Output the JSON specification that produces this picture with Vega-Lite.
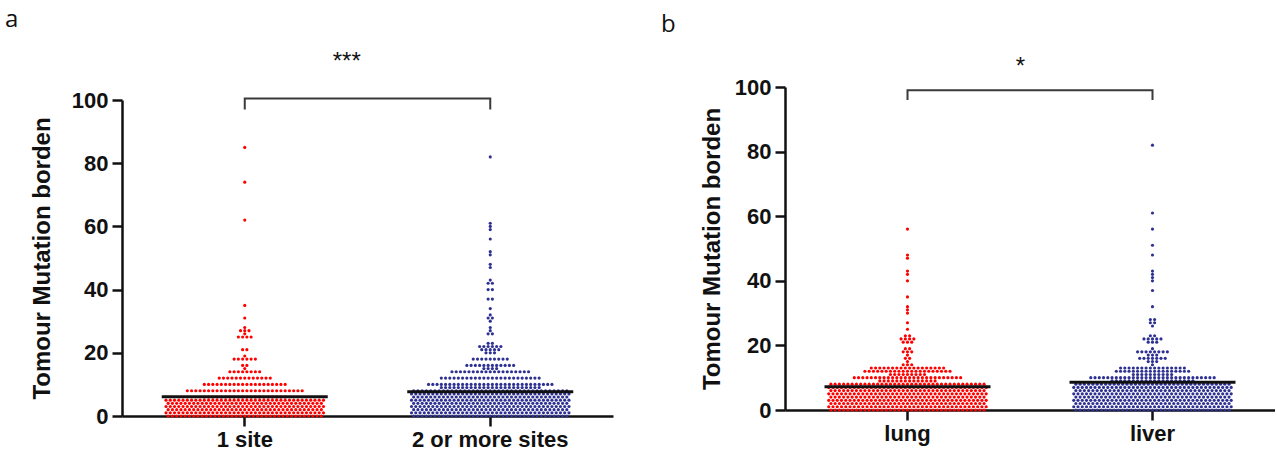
{
"$schema":"https://vega.github.io/schema/vega-lite/v6.json",
"padding":{"left":5,"top":8,"right":0,"bottom":0},
"background":"white",
"bounds":"flush",
"spacing":172,
"config":{
 "view":{"stroke":null},
 "axis":{"grid":false,"domainColor":"#111","domainWidth":2.5,"tickColor":"#111","tickWidth":2.5,"tickSize":10,"labelFont":"Liberation Sans, Arial, sans-serif","labelFontWeight":"bold","labelFontSize":22,"labelColor":"#111","titleFont":"Liberation Sans, Arial, sans-serif","titleFontWeight":"bold","titleFontSize":24,"titleColor":"#111"}
},
"hconcat":[
{
 "width":491,"height":329,
 "title":{"text":"a","anchor":"start","frame":"group","dx":-117,"offset":-1,"fontSize":24,"fontWeight":"normal","font":"Open Sans","color":"#111","baseline":"alphabetic"},
 "layer":[
  {"data":{"values":[0,0,0,0,0,0,0,0,0,0,0,0,0,0,0,0,0,0,0,0,0,0,0,0,0,0,0,0,0,0,0,0,0,0,0,0,0,1,1,1,1,1,1,1,1,1,1,1,1,1,1,1,1,1,1,1,1,1,1,1,1,1,1,1,1,1,1,1,1,1,1,1,1,1,1,2,2,2,2,2,2,2,2,2,2,2,2,2,2,2,2,2,2,2,2,2,2,2,2,2,2,2,2,2,2,2,2,2,2,2,2,2,3,3,3,3,3,3,3,3,3,3,3,3,3,3,3,3,3,3,3,3,3,3,3,3,3,3,3,3,3,3,3,3,3,3,3,3,3,3,4,4,4,4,4,4,4,4,4,4,4,4,4,4,4,4,4,4,4,4,4,4,4,4,4,4,4,4,4,4,4,4,4,4,4,4,4,5,5,5,5,5,5,5,5,5,5,5,5,5,5,5,5,5,5,5,5,5,5,5,5,5,5,5,5,5,5,5,5,5,5,5,5,5,5,6,6,6,6,6,6,6,6,6,6,6,6,6,6,6,6,6,6,6,6,8,8,8,8,8,8,8,8,8,8,8,8,8,8,8,8,8,8,8,8,8,8,8,8,8,8,8,8,10,10,10,10,10,10,10,10,10,10,10,10,10,10,10,10,10,10,10,10,12,12,12,12,12,12,12,12,12,12,12,12,12,14,14,14,14,14,14,14,14,15,16,16,18,18,18,18,18,18,19,21,21,25,25,25,25,26,27,27,27,28,31,35,62,74,85]},
   "transform":[{"window":[{"op":"row_number","as":"i"}],"groupby":["data"]},{"joinaggregate":[{"op":"count","as":"n"}],"groupby":["data"]},{"calculate":"datum.i-(datum.n+1)/2","as":"off"}],
   "mark":{"type":"circle","size":10,"color":"#ff0000","opacity":1},
   "encoding":{
    "x":{"datum":"1 site","type":"nominal","title":null,"scale":{"domain":["1 site","2 or more sites"],"paddingInner":0.324,"paddingOuter":0.162},"axis":{"labelAngle":0,"labelPadding":3}},
    "xOffset":{"field":"off","type":"quantitative","scale":{"domain":[-19.5,19.5]}},
    "y":{"field":"data","type":"quantitative","title":"Tomour Mutation borden","scale":{"domain":[0,100],"range":[329,13]},"axis":{"values":[0,20,40,60,80,100],"labelPadding":4,"titlePadding":17}}
   }},
  {"data":{"values":[0,0,0,0,0,0,0,0,0,0,0,0,0,0,0,0,0,0,0,0,0,0,0,0,0,0,0,0,0,0,0,0,0,0,0,0,0,1,1,1,1,1,1,1,1,1,1,1,1,1,1,1,1,1,1,1,1,1,1,1,1,1,1,1,1,1,1,1,1,1,1,1,1,1,1,2,2,2,2,2,2,2,2,2,2,2,2,2,2,2,2,2,2,2,2,2,2,2,2,2,2,2,2,2,2,2,2,2,2,2,2,2,3,3,3,3,3,3,3,3,3,3,3,3,3,3,3,3,3,3,3,3,3,3,3,3,3,3,3,3,3,3,3,3,3,3,3,3,3,3,4,4,4,4,4,4,4,4,4,4,4,4,4,4,4,4,4,4,4,4,4,4,4,4,4,4,4,4,4,4,4,4,4,4,4,4,4,5,5,5,5,5,5,5,5,5,5,5,5,5,5,5,5,5,5,5,5,5,5,5,5,5,5,5,5,5,5,5,5,5,5,5,5,5,5,6,6,6,6,6,6,6,6,6,6,6,6,6,6,6,6,6,6,6,6,6,6,6,6,6,6,6,6,6,6,6,6,6,6,6,6,6,7,7,7,7,7,7,7,7,7,7,7,7,7,7,7,7,7,7,7,7,7,7,7,7,7,7,7,7,7,7,7,7,7,7,7,7,7,7,8,8,8,8,8,8,8,8,8,8,8,8,8,8,8,8,8,8,8,8,8,8,8,8,8,8,8,8,8,8,8,8,8,8,8,8,8,9,9,9,9,9,9,9,9,9,9,9,9,9,9,9,9,9,9,9,9,9,9,9,9,10,10,10,10,10,10,10,10,10,10,10,10,10,10,10,10,10,10,10,10,10,10,10,10,10,10,10,10,10,10,12,12,12,12,12,12,12,12,12,12,12,12,12,12,12,12,12,12,12,12,12,12,12,12,14,14,14,14,14,14,14,14,14,14,14,14,14,14,14,14,14,14,14,15,15,15,15,16,16,16,16,16,16,16,16,16,16,16,16,18,18,18,18,18,18,18,18,18,20,20,20,21,21,21,21,21,22,22,22,22,22,22,23,23,26,26,27,28,30,31,31,32,34,37,37,40,40,42,42,43,47,48,51,52,56,59,60,61,82]},
   "transform":[{"window":[{"op":"row_number","as":"i"}],"groupby":["data"]},{"joinaggregate":[{"op":"count","as":"n"}],"groupby":["data"]},{"calculate":"datum.i-(datum.n+1)/2","as":"off"}],
   "mark":{"type":"circle","size":10,"color":"#2e3192","opacity":1},
   "encoding":{
    "x":{"datum":"2 or more sites","type":"nominal","title":null},
    "xOffset":{"field":"off","type":"quantitative","scale":{"domain":[-19.5,19.5]}},
    "y":{"field":"data","type":"quantitative","title":"Tomour Mutation borden"}
   }},
  {"data":{"values":[{"g":"1 site","m":6.1},{"g":"2 or more sites","m":7.7}]},
   "mark":{"type":"tick","size":166,"thickness":3,"color":"#111","opacity":1},
   "encoding":{"x":{"field":"g","type":"nominal","title":null},"y":{"field":"m","type":"quantitative","title":"Tomour Mutation borden"}}},
  {"data":{"values":[{"g":"1 site","y":97,"o":1},{"g":"1 site","y":100.5,"o":2},{"g":"2 or more sites","y":100.5,"o":3},{"g":"2 or more sites","y":97,"o":4}]},
   "mark":{"type":"line","color":"#3a3a3a","strokeWidth":2},
   "encoding":{"x":{"field":"g","type":"nominal","title":null},"y":{"field":"y","type":"quantitative","title":"Tomour Mutation borden"},"order":{"field":"o"}}},
  {"data":{"values":[{"g":"1 site","t":"***","y":112}]},
   "mark":{"type":"text","dx":102,"fontSize":24,"font":"Liberation Sans","color":"#111"},
   "encoding":{"x":{"field":"g","type":"nominal","title":null},"y":{"field":"y","type":"quantitative","title":"Tomour Mutation borden"},"text":{"field":"t"}}}
 ]
},
{
 "width":490,"height":323,
 "title":{"text":"b","anchor":"start","frame":"group","dx":-124,"offset":-1,"fontSize":24,"fontWeight":"normal","font":"Open Sans","color":"#111","baseline":"alphabetic"},
 "layer":[
  {"data":{"values":[0,0,0,0,0,0,0,0,0,0,0,0,0,0,0,0,0,0,0,0,0,0,0,0,0,0,0,0,0,0,0,0,0,0,0,0,0,1,1,1,1,1,1,1,1,1,1,1,1,1,1,1,1,1,1,1,1,1,1,1,1,1,1,1,1,1,1,1,1,1,1,1,1,1,1,2,2,2,2,2,2,2,2,2,2,2,2,2,2,2,2,2,2,2,2,2,2,2,2,2,2,2,2,2,2,2,2,2,2,2,2,2,3,3,3,3,3,3,3,3,3,3,3,3,3,3,3,3,3,3,3,3,3,3,3,3,3,3,3,3,3,3,3,3,3,3,3,3,3,3,4,4,4,4,4,4,4,4,4,4,4,4,4,4,4,4,4,4,4,4,4,4,4,4,4,4,4,4,4,4,4,4,4,4,4,4,4,5,5,5,5,5,5,5,5,5,5,5,5,5,5,5,5,5,5,5,5,5,5,5,5,5,5,5,5,5,5,5,5,5,5,5,5,5,5,6,6,6,6,6,6,6,6,6,6,6,6,6,6,6,6,6,6,6,6,6,6,6,6,6,6,6,6,6,6,6,6,6,6,6,6,6,7,7,7,7,7,7,7,7,7,7,7,7,7,7,7,7,7,7,7,7,7,7,7,7,7,7,7,7,7,7,7,7,7,7,7,7,7,7,8,8,8,8,8,8,8,8,8,8,8,8,8,8,8,8,8,8,8,8,8,8,8,8,8,8,8,8,8,8,8,8,8,8,8,8,8,9,9,9,9,9,9,9,9,9,9,9,9,9,9,10,10,10,10,10,10,10,10,10,10,10,10,10,10,10,10,10,10,10,10,10,10,10,10,10,10,11,11,11,11,11,11,11,11,11,12,12,12,12,12,12,12,12,12,12,12,12,12,12,12,12,12,12,12,12,12,13,13,13,13,13,13,13,13,13,13,13,13,13,13,13,13,13,13,14,14,14,15,16,16,17,18,18,18,19,19,21,21,21,22,22,22,22,23,23,25,27,30,31,32,35,40,42,43,47,48,56]},
   "transform":[{"window":[{"op":"row_number","as":"i"}],"groupby":["data"]},{"joinaggregate":[{"op":"count","as":"n"}],"groupby":["data"]},{"calculate":"datum.i-(datum.n+1)/2","as":"off"}],
   "mark":{"type":"circle","size":10,"color":"#ff0000","opacity":1},
   "encoding":{
    "x":{"datum":"lung","type":"nominal","title":null,"scale":{"domain":["lung","liver"],"paddingInner":0.3224,"paddingOuter":0.1612},"axis":{"labelAngle":0,"labelPadding":3}},
    "xOffset":{"field":"off","type":"quantitative","scale":{"domain":[-19.5,19.5]}},
    "y":{"field":"data","type":"quantitative","title":"Tomour Mutation borden","scale":{"domain":[0,100]},"axis":{"values":[0,20,40,60,80,100],"labelPadding":4,"titlePadding":10}}
   }},
  {"data":{"values":[0,0,0,0,0,0,0,0,0,0,0,0,0,0,0,0,0,0,0,0,0,0,0,0,0,0,0,0,0,0,0,0,0,0,0,0,0,1,1,1,1,1,1,1,1,1,1,1,1,1,1,1,1,1,1,1,1,1,1,1,1,1,1,1,1,1,1,1,1,1,1,1,1,1,1,2,2,2,2,2,2,2,2,2,2,2,2,2,2,2,2,2,2,2,2,2,2,2,2,2,2,2,2,2,2,2,2,2,2,2,2,2,3,3,3,3,3,3,3,3,3,3,3,3,3,3,3,3,3,3,3,3,3,3,3,3,3,3,3,3,3,3,3,3,3,3,3,3,3,3,4,4,4,4,4,4,4,4,4,4,4,4,4,4,4,4,4,4,4,4,4,4,4,4,4,4,4,4,4,4,4,4,4,4,4,4,4,5,5,5,5,5,5,5,5,5,5,5,5,5,5,5,5,5,5,5,5,5,5,5,5,5,5,5,5,5,5,5,5,5,5,5,5,5,5,6,6,6,6,6,6,6,6,6,6,6,6,6,6,6,6,6,6,6,6,6,6,6,6,6,6,6,6,6,6,6,6,6,6,6,6,6,7,7,7,7,7,7,7,7,7,7,7,7,7,7,7,7,7,7,7,7,7,7,7,7,7,7,7,7,7,7,7,7,7,7,7,7,7,7,8,8,8,8,8,8,8,8,8,8,8,8,8,8,8,8,8,8,8,8,8,8,8,8,8,8,8,8,8,8,8,8,8,8,8,8,8,9,9,9,9,9,9,9,9,9,9,9,9,9,9,9,9,9,9,9,9,10,10,10,10,10,10,10,10,10,10,10,10,10,10,10,10,10,10,10,10,10,10,10,10,10,10,10,10,10,10,11,11,11,11,11,11,11,11,11,11,12,12,12,12,12,12,12,12,12,12,12,12,12,12,12,12,12,12,13,13,13,13,13,13,13,13,13,13,13,13,13,13,13,13,14,15,15,15,16,16,16,16,16,16,16,17,17,17,18,18,18,18,18,18,18,18,19,21,21,21,22,22,22,22,22,23,23,26,27,27,28,28,32,37,40,41,42,43,48,51,56,61,82]},
   "transform":[{"window":[{"op":"row_number","as":"i"}],"groupby":["data"]},{"joinaggregate":[{"op":"count","as":"n"}],"groupby":["data"]},{"calculate":"datum.i-(datum.n+1)/2","as":"off"}],
   "mark":{"type":"circle","size":10,"color":"#2e3192","opacity":1},
   "encoding":{
    "x":{"datum":"liver","type":"nominal","title":null},
    "xOffset":{"field":"off","type":"quantitative","scale":{"domain":[-19.5,19.5]}},
    "y":{"field":"data","type":"quantitative","title":"Tomour Mutation borden"}
   }},
  {"data":{"values":[{"g":"lung","m":7.2},{"g":"liver","m":8.6}]},
   "mark":{"type":"tick","size":166,"thickness":3,"color":"#111","opacity":1},
   "encoding":{"x":{"field":"g","type":"nominal","title":null},"y":{"field":"m","type":"quantitative","title":"Tomour Mutation borden"}}},
  {"data":{"values":[{"g":"lung","y":96,"o":1},{"g":"lung","y":99,"o":2},{"g":"liver","y":99,"o":3},{"g":"liver","y":96,"o":4}]},
   "mark":{"type":"line","color":"#3a3a3a","strokeWidth":2},
   "encoding":{"x":{"field":"g","type":"nominal","title":null},"y":{"field":"y","type":"quantitative","title":"Tomour Mutation borden"},"order":{"field":"o"}}},
  {"data":{"values":[{"g":"lung","t":"*","y":106.2}]},
   "mark":{"type":"text","dx":113,"fontSize":24,"font":"Liberation Sans","color":"#111"},
   "encoding":{"x":{"field":"g","type":"nominal","title":null},"y":{"field":"y","type":"quantitative","title":"Tomour Mutation borden"},"text":{"field":"t"}}}
 ]
}
]
}
